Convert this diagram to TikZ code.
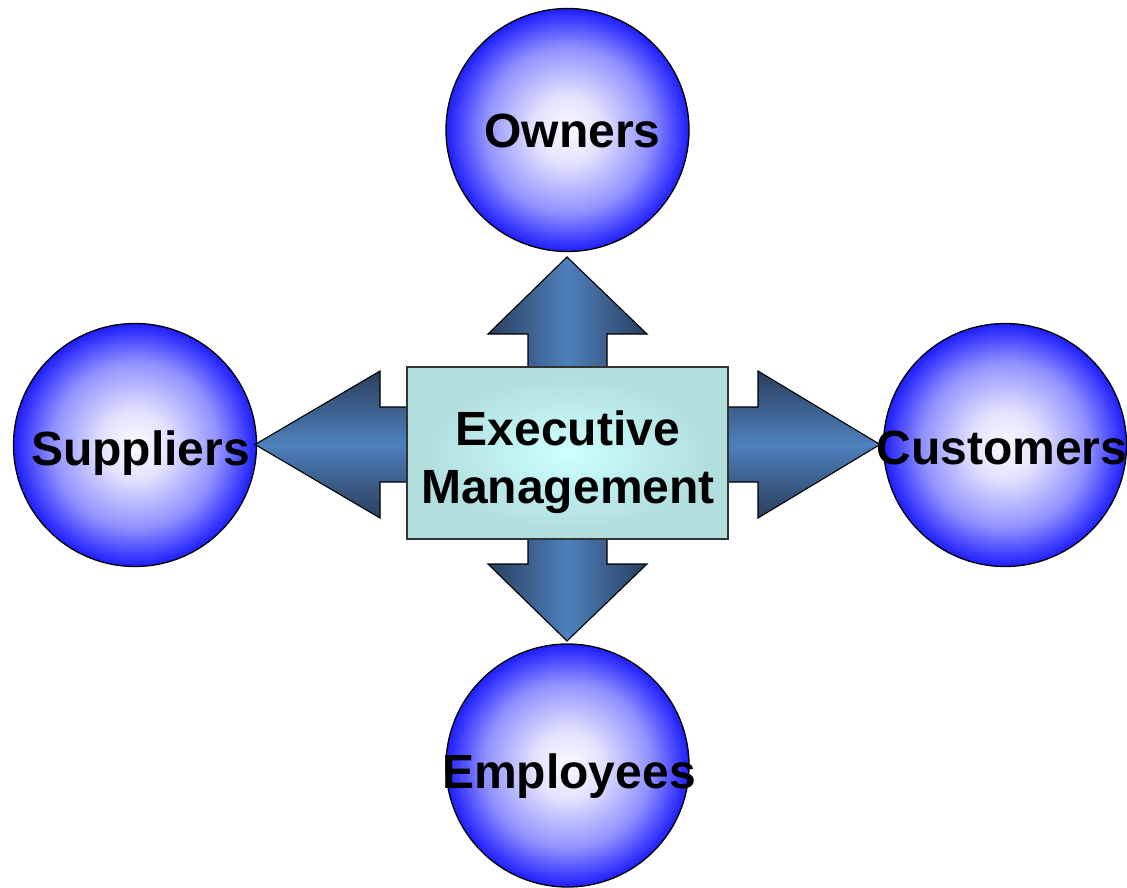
\documentclass[tikz,border=0pt]{standalone}
\usepackage{fontspec}
\setmainfont{Liberation Sans}
\definecolor{ballcA}{RGB}{250,250,255}
\definecolor{ballcB}{RGB}{226,226,255}
\definecolor{ballcC}{RGB}{145,145,255}
\definecolor{ballcD}{RGB}{58,58,255}
\definecolor{ballcE}{RGB}{30,30,250}
\definecolor{rectcA}{RGB}{205,255,255}
\definecolor{rectcB}{RGB}{178,222,222}
\definecolor{arrdark}{RGB}{42,62,92}
\definecolor{arrmid}{RGB}{78,128,188}
\pgfdeclareradialshading{ballshade}{\pgfpoint{0bp}{0bp}}{color(0bp)=(ballcA); color(7bp)=(ballcB); color(17bp)=(ballcC); color(23bp)=(ballcD); color(25bp)=(ballcE); color(50bp)=(ballcE)}
\pgfdeclareradialshading{rectshade}{\pgfpoint{0bp}{0bp}}{color(0bp)=(rectcA); color(22bp)=(rectcB); color(50bp)=(rectcB)}
\tikzset{
  ball/.style={circle, draw=black, line width=1.3pt, shading=ballshade, minimum size=243pt, inner sep=0pt},
  execbox/.style={rectangle, draw=black!80, line width=1.2pt, shading=rectshade, minimum width=321pt, minimum height=172pt, inner sep=0pt},
  vblock/.style={draw=black, line width=1.1pt, left color=arrdark, right color=arrdark, middle color=arrmid},
  hblock/.style={draw=black, line width=1.1pt, top color=arrdark, bottom color=arrdark, middle color=arrmid},
  lbl/.style={anchor=base, inner sep=0pt, font=\fontsize{48}{56}\selectfont\bfseries, text=black}
}
\begin{document}
\begin{tikzpicture}[x=1pt,y=-1pt]
\useasboundingbox (0,0) rectangle (1127,888);
% circles
\node[ball] (owners) at (567.5,130) {};
\node[ball] (suppliers) at (135,445) {};
\node[ball] (customers) at (1005,445) {};
\node[ball] (employees) at (567.5,765.5) {};
% block arrows
\path[vblock] (567,257) -- (647,334) -- (607,334) -- (607,564) -- (647,564) -- (567,641)
  -- (488,564) -- (528,564) -- (528,334) -- (488,334) -- cycle;
\path[hblock] (255,444.5) -- (380,371) -- (380,407) -- (758,407) -- (758,371) -- (880,444.5)
  -- (758,518) -- (758,482) -- (380,482) -- (380,518) -- cycle;
% centre box
\node[execbox] (exec) at (567.5,453) {};
% labels
\node[lbl] (execA) at (567.8,445) {Executive};
\node[lbl] (execB) at (568,503) {Management};
\node[lbl] (ownersT) at (572.5,148) {Owners};
\node[lbl] (suppliersT) at (140.5,465) {Suppliers};
\node[lbl] (customersT) at (1002,464) {Customers};
\node[lbl] (employeesT) at (569,788) {Employees};
\end{tikzpicture}
\end{document}
